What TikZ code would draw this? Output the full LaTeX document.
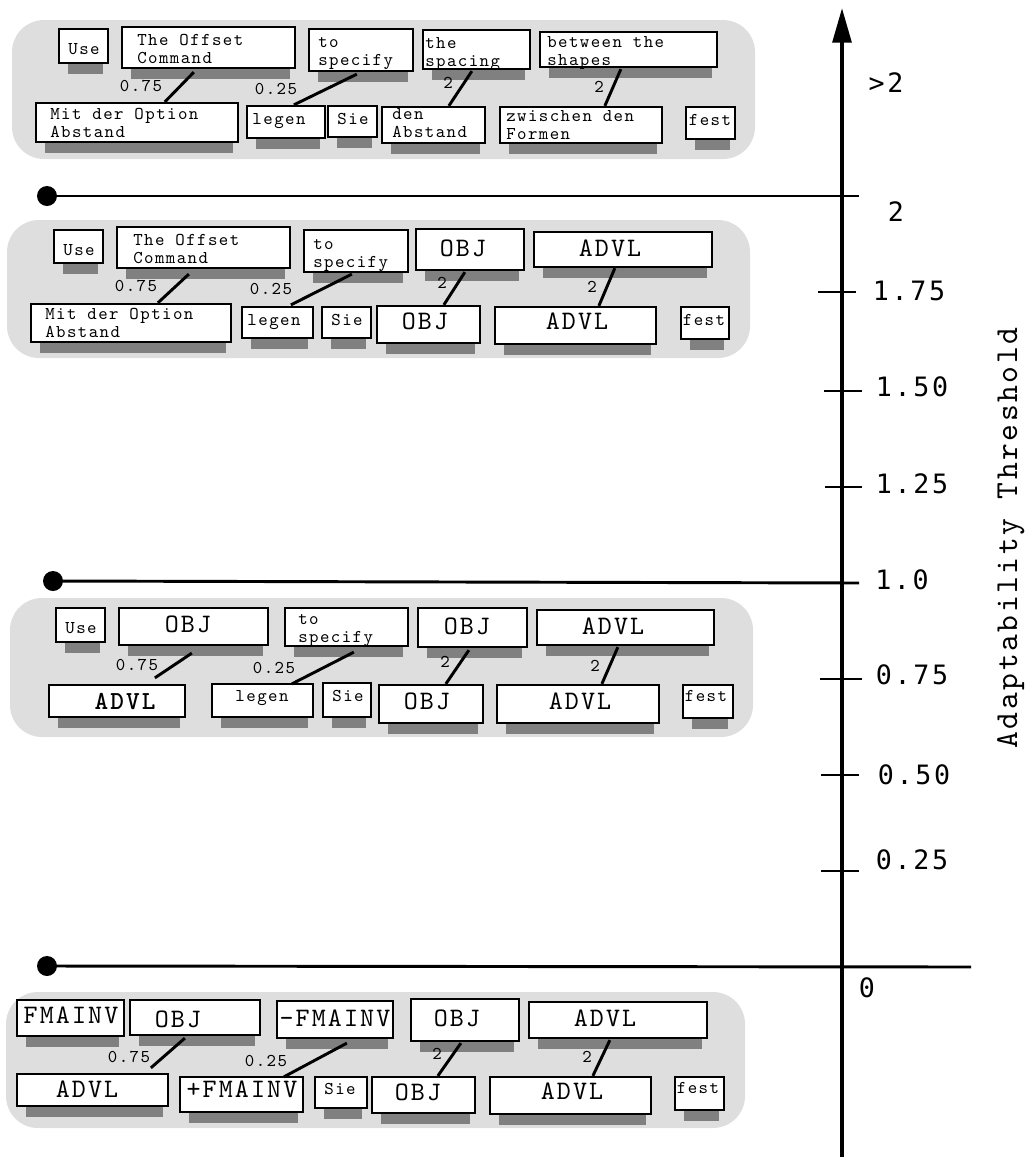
\documentclass[tikz,border=0pt]{standalone}
\usepackage{fontspec}
\newfontfamily\cour[Extension=.otf,LetterSpace=8,BoldFont=lmmonolt10-bold]{lmmono10-regular}
\newfontfamily\tickf[LetterSpace=10]{DejaVu Sans Mono}
\usetikzlibrary{calc,arrows.meta}
\definecolor{panelgray}{HTML}{DEDEDE}
\definecolor{shadowgray}{HTML}{808080}
\pgfdeclarelayer{bg}\pgfdeclarelayer{shadow}\pgfsetlayers{bg,shadow,main}
\tikzset{
 box/.style={draw=black, line width=1.7pt, fill=white, inner sep=0pt},
 shd/.style={fill=shadowgray},
 panel/.style={fill=panelgray, rounded corners=24pt},
 t/.style={font=\cour\fontsize{13.5}{13.5}\selectfont, inner sep=0pt, text height=0.6em, text depth=0pt},
 tb/.style={font=\cour\fontsize{20}{20}\selectfont, inner sep=0pt, text height=0.6em, text depth=0pt},
 ml/.style={font=\cour\fontsize{13.5}{13.5}\selectfont, inner sep=0pt, align=left, anchor=base west},
 conn/.style={line width=2.2pt},
 lab/.style={t},
 hline/.style={line width=2.2pt},
 dot/.style={circle, fill=black, minimum size=15pt, inner sep=0pt},
 tickline/.style={line width=2.2pt},
 tl/.style={font=\tickf\fontsize{20}{20}\selectfont, inner sep=0pt, text height=0.73em, text depth=0pt},
}
\newcommand\bx[6][]{%
 \pgfmathsetmacro\mybw{(#5-#3)*0.75}%
 \pgfmathsetmacro\mybh{(#6-#4)*0.75}%
 \node[box, minimum width=\mybw pt, minimum height=\mybh pt, #1] (#2) at ({(#3+#5)/2},{(#4+#6)/2}) {};%
 \begin{pgfonlayer}{shadow}\fill[shd] ($(#2.south west)+(10,0)$) rectangle ($(#2.south east)+(-6,10)$);\end{pgfonlayer}}
\newcommand\cn[6]{\draw[conn] ($(#1.south west)+(#2,#3)$) -- ($(#4.north west)+(#5,#6)$);}
\begin{document}
\begin{tikzpicture}[x=0.75pt,y=-0.75pt]
\useasboundingbox (0,0) rectangle (1028,1157);
\begin{pgfonlayer}{bg}
\fill[panel] (12,20) rectangle (755,159);
\fill[panel] (7,220) rectangle (750,358);
\fill[panel] (10,598) rectangle (753,737);
\fill[panel] (6,992) rectangle (745,1128);
\end{pgfonlayer}

% ---------- panel 1
\bx{p1use}{59}{29}{108}{63}
\bx{p1off}{122}{27}{295}{68}
\bx{p1spec}{309}{29}{413}{71}
\bx{p1spa}{423}{30}{530}{69}
\bx{p1bet}{540}{32}{717}{67}
\bx{p1mit}{36}{103}{238}{142}
\bx{p1leg}{247}{106}{325}{138}
\bx{p1sie}{328}{106}{377}{137}
\bx{p1den}{382}{107}{485}{143}
\bx{p1zw}{500}{107}{662}{143}
\bx{p1fest}{686}{107}{735}{139}
\node[t] (p1use-t) at (84,50) {Use};
\node[ml] (p1off-t) at (137,63) {The Offset\\Command};
\node[ml] (p1spec-t) at (318,65) {to\\specify};
\node[ml] (p1spa-t) at (425,66) {the\\spacing};
\node[ml] (p1bet-t) at (547,65) {between the\\shapes};
\node[ml] (p1mit-t) at (50,137) {Mit der Option\\Abstand};
\node[t] (p1leg-t) at (279,120) {legen};
\node[t] (p1sie-t) at (353,120) {Sie};
\node[ml] (p1den-t) at (392,137) {den\\Abstand};
\node[ml] (p1zw-t) at (506,139) {zwischen den\\Formen};
\node[t] (p1fest-t) at (710,121) {fest};
\cn{p1off}{73}{3}{p1mit}{130}{0}
\cn{p1spec}{49}{2}{p1leg}{48}{0}
\cn{p1spa}{50}{1}{p1den}{68}{0}
\cn{p1bet}{82}{1}{p1zw}{106}{0}
\node[lab] (p1l1) at (141,87) {0.75};
\node[lab] (p1l2) at (276,90) {0.25};
\node[lab] (p1l3) at (448,84) {2};
\node[lab] (p1l4) at (599,88) {2};

% ---------- panel 2
\bx{p2use}{54}{230}{103}{263}
\bx{p2off}{117}{227}{290}{268}
\bx{p2spec}{304}{230}{408}{272}
\bx{p2obj1}{416}{229}{524}{270}
\bx{p2adv1}{534}{232}{712}{267}
\bx{p2mit}{31}{304}{231}{342}
\bx{p2leg}{242}{307}{313}{338}
\bx{p2sie}{322}{307}{371}{338}
\bx{p2obj2}{377}{306}{480}{343}
\bx{p2adv2}{495}{307}{656}{344}
\bx{p2fest}{681}{307}{729}{339}
\node[t] (p2use-t) at (79,251) {Use};
\node[ml] (p2off-t) at (133,263) {The Offset\\Command};
\node[ml] (p2spec-t) at (313,267) {to\\specify};
\node[tb] (p2obj1-t) at (463,252) {OBJ};
\node[tb] (p2adv1-t) at (610,252) {ADVL};
\node[ml] (p2mit-t) at (45,337) {Mit der Option\\Abstand};
\node[t] (p2leg-t) at (274,321) {legen};
\node[t] (p2sie-t) at (347,321) {Sie};
\node[tb] (p2obj2-t) at (425,325) {OBJ};
\node[tb] (p2adv2-t) at (577,325) {ADVL};
\node[t] (p2fest-t) at (704,321) {fest};
\cn{p2off}{73}{5}{p2mit}{128}{0}
\cn{p2spec}{49}{1}{p2leg}{50}{-1}
\cn{p2obj1}{50}{1}{p2obj2}{68}{0}
\cn{p2adv1}{82}{0}{p2adv2}{105}{0}
\node[lab] (p2l1) at (136,287) {0.75};
\node[lab] (p2l2) at (271,290) {0.25};
\node[lab] (p2l3) at (442,284) {2};
\node[lab] (p2l4) at (592,288) {2};

% ---------- panel 3
\bx{p3use}{56}{608}{105}{642}
\bx{p3obj0}{119}{608}{268}{645}
\bx{p3spec}{285}{608}{408}{646}
\bx{p3obj1}{418}{608}{527}{647}
\bx{p3adv1}{537}{610}{714}{645}
\bx{p3adv0}{49}{685}{185}{717}
\bx{p3leg}{212}{684}{313}{717}
\bx{p3sie}{323}{683}{371}{717}
\bx{p3obj2}{379}{685}{483}{723}
\bx{p3adv2}{497}{685}{659}{723}
\bx{p3fest}{683}{685}{733}{718}
\node[t] (p3use-t) at (81,629) {Use};
\node[tb] (p3obj0-t) at (188,628) {OBJ};
\node[ml] (p3spec-t) at (298,642) {to\\specify};
\node[tb] (p3obj1-t) at (467,630) {OBJ};
\node[tb] (p3adv1-t) at (613,630) {ADVL};
\node[tb,font=\cour\bfseries\fontsize{19.5}{20}\selectfont] (p3adv0-t) at (125,705) {ADVL};
\node[t] (p3leg-t) at (262,697) {legen};
\node[t] (p3sie-t) at (348,697) {Sie};
\node[tb] (p3obj2-t) at (427,705) {OBJ};
\node[tb] (p3adv2-t) at (580,705) {ADVL};
\node[t] (p3fest-t) at (706,697) {fest};
\cn{p3obj0}{74}{7}{p3adv0}{107}{-6}
\cn{p3spec}{70}{5}{p3leg}{81}{1}
\cn{p3obj1}{52}{2}{p3obj2}{68}{0}
\cn{p3adv1}{82}{1}{p3adv2}{106}{0}
\node[lab] (p3l1) at (137,666) {0.75};
\node[lab] (p3l2) at (274,669) {0.25};
\node[lab] (p3l3) at (445,663) {2};
\node[lab] (p3l4) at (595,667) {2};

% ---------- panel 4
\bx{p4fm}{17}{1000}{124}{1036}
\bx{p4obj0}{130}{1000}{260}{1035}
\bx{p4mfm}{277}{1001}{393}{1038}
\bx{p4obj1}{411}{999}{519}{1041}
\bx{p4adv1}{529}{1002}{707}{1038}
\bx{p4adv0}{17}{1074}{168}{1106}
\bx{p4pfm}{180}{1077}{303}{1112}
\bx{p4sie}{315}{1077}{367}{1108}
\bx{p4obj2}{372}{1077}{475}{1113}
\bx{p4adv2}{490}{1077}{651}{1114}
\bx{p4fest}{675}{1077}{724}{1110}
\node[tb] (p4fm-t) at (71,1019) {FMAINV};
\node[tb] (p4obj0-t) at (178,1023) {OBJ};
\node[tb] (p4mfm-t) at (335,1022) {-FMAINV};
\node[tb] (p4obj1-t) at (457,1022) {OBJ};
\node[tb] (p4adv1-t) at (605,1022) {ADVL};
\node[tb] (p4adv0-t) at (87,1093) {ADVL};
\node[tb] (p4pfm-t) at (242,1093) {+FMAINV};
\node[t] (p4sie-t) at (340,1090) {Sie};
\node[tb] (p4obj2-t) at (418,1096) {OBJ};
\node[tb] (p4adv2-t) at (572,1095) {ADVL};
\node[t] (p4fest-t) at (698,1089) {fest};
\cn{p4obj0}{56}{2}{p4adv0}{135}{-5}
\cn{p4mfm}{71}{4}{p4pfm}{105}{1}
\cn{p4obj1}{51}{1}{p4obj2}{67}{0}
\cn{p4adv1}{82}{1}{p4adv2}{104}{0}
\node[lab] (p4l1) at (129,1058) {0.75};
\node[lab] (p4l2) at (266,1062) {0.25};
\node[lab] (p4l3) at (437,1055) {2};
\node[lab] (p4l4) at (587,1058) {2};

% ---------- axis
\coordinate (axb) at (842,1157);
\coordinate (axt) at (842,8);
\draw[line width=3pt, -{Triangle[length=26pt,width=14pt]}] (axb) -- (axt);
\node[dot] (d1) at (47,196) {};
\node[dot] (d2) at (53,581) {};
\node[dot] (d3) at (47,966) {};
\coordinate (h1) at (859,196);
\coordinate (h2) at (859,583);
\coordinate (h3) at (971,967);
\draw[hline] (d1.center) -- (h1);
\draw[hline] (d2.center) -- (h2);
\draw[hline] (d3.center) -- (h3);
\foreach \na/\xa/\xb/\yy in {t175/818/856/292, t150/824/862/391, t125/825/862/487, t075/820/862/679, t050/821/859/775, t025/821/859/871}{
  \coordinate (\na a) at (\xa,\yy);
  \coordinate (\na b) at (\xb,\yy);
  \draw[tickline] (\na a) -- (\na b);
}
\node[tl] (lgt2) at (886,88) {>2};
\node[tl] (l2) at (896,217) {2};
\node[tl] (l175) at (909,296) {1.75};
\node[tl] (l150) at (912,392) {1.50};
\node[tl] (l125) at (912,489) {1.25};
\node[tl] (l10) at (902,585) {1.0};
\node[tl] (l075) at (912,680) {0.75};
\node[tl] (l050) at (914,780) {0.50};
\node[tl] (l025) at (912,865) {0.25};
\node[tl] (l0) at (867,993) {0};
\node[font=\cour\fontsize{24}{24}\selectfont, inner sep=0pt, rotate=90, anchor=base] (axlab) at (1017,538) {Adaptability Threshold};
\end{tikzpicture}
\end{document}
